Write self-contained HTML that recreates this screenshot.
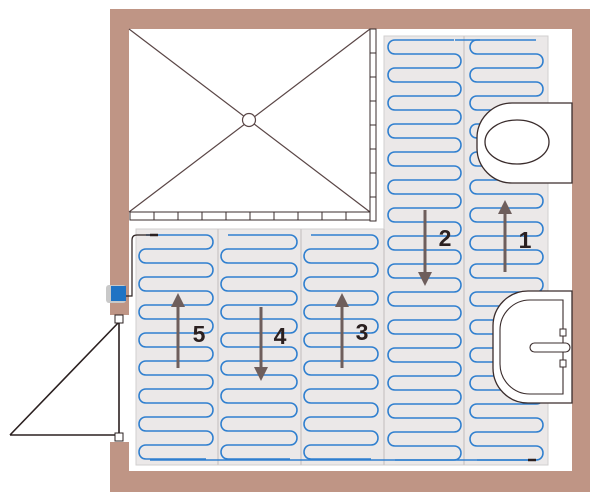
<!DOCTYPE html>
<html><head><meta charset="utf-8"><style>
html,body{margin:0;padding:0;background:#fff;width:600px;height:500px;overflow:hidden}
svg{display:block}
text{font-family:"Liberation Sans","DejaVu Sans",sans-serif;font-weight:bold;font-size:23px;fill:#2b2020}
</style></head><body>
<svg id="s" width="600" height="500" viewBox="0 0 600 500" xmlns="http://www.w3.org/2000/svg">
<rect x="110" y="9" width="480" height="483" fill="#bf9585"/>
<rect x="129" y="29" width="443" height="442" fill="#fff"/>
<rect x="110" y="315" width="19" height="127" fill="#fff"/>
<rect x="129" y="29" width="241" height="183" fill="#fff"/>
<line x1="129" y1="29" x2="370" y2="212" stroke="#5a4646" stroke-width="1.2"/>
<line x1="370" y1="29" x2="129" y2="212" stroke="#5a4646" stroke-width="1.2"/>
<circle cx="249" cy="120" r="6.5" fill="#fff" stroke="#5a4646" stroke-width="1.2"/>
<g id="curb" fill="#fff" stroke="#3a2c2c" stroke-width="1"></g>
<rect x="384" y="36" width="164" height="429" fill="#ebe8e8" stroke="#d2cfcf"/>
<rect x="136" y="229" width="248" height="236" fill="#ebe8e8" stroke="#d2cfcf"/>
<g stroke="#cfcaca" stroke-width="1.5">
<line x1="464" y1="36" x2="464" y2="465"/>
<line x1="218" y1="229" x2="218" y2="465"/>
<line x1="301" y1="229" x2="301" y2="465"/>
<line x1="384" y1="229" x2="384" y2="465"/>
</g>
<g id="cable" fill="none" stroke="#2f7fcf" stroke-width="1.6"></g>
<path d="M512,103 H572 V183 H512 A35,35 0 0 1 477,148 V138 A35,35 0 0 1 512,103 Z" fill="#fff" stroke="#3a2c2c" stroke-width="1.3"/>
<ellipse cx="517" cy="142" rx="32" ry="22" fill="#fff" stroke="#3a2c2c" stroke-width="1.3"/>
<path d="M528,291 H572 V403 H528 A35,35 0 0 1 493,368 V326 A35,35 0 0 1 528,291 Z" fill="#fff" stroke="#3a2c2c" stroke-width="1.3"/>
<path d="M530,300 H563 V394 H530 A30,30 0 0 1 500,364 V330 A30,30 0 0 1 530,300 Z" fill="none" stroke="#3a2c2c" stroke-width="1.1"/>
<rect x="530" y="343" width="40" height="9" rx="4.5" fill="#fff" stroke="#3a2c2c" stroke-width="1.1"/>
<rect x="560" y="329" width="6" height="7" fill="#fff" stroke="#3a2c2c"/>
<rect x="560" y="360" width="6" height="7" fill="#fff" stroke="#3a2c2c"/>
<path d="M119,320 V438 M10,435 H119 M10,435 L119,322" stroke="#2b2020" stroke-width="1.6" fill="none"/>
<rect x="115" y="315" width="8" height="8" fill="#fff" stroke="#2b2020"/>
<rect x="115" y="433" width="8" height="8" fill="#fff" stroke="#2b2020"/>
<rect x="106" y="285" width="20" height="18" rx="3" fill="#c9c9c9"/>
<rect x="111" y="286" width="15" height="15" fill="#1f73c4"/>
<path d="M126,296 H132 V240 Q132,235 137,235 H152" fill="none" stroke="#2b2020" stroke-width="1.2"/>
<line x1="150" y1="235" x2="158" y2="235" stroke="#2b2020" stroke-width="2.5"/>
<line x1="528" y1="460" x2="536" y2="460" stroke="#2b2020" stroke-width="2.5"/>
<g fill="#6e5e5c" stroke="#6e5e5c" stroke-width="3">
<line x1="505" y1="272" x2="505" y2="208"/><polygon points="505,200 498,214 512,214" stroke="none"/>
<line x1="425" y1="210" x2="425" y2="278"/><polygon points="425,286 418,272 432,272" stroke="none"/>
<line x1="342" y1="368" x2="342" y2="300"/><polygon points="342,293 335,307 349,307" stroke="none"/>
<line x1="261" y1="307" x2="261" y2="373"/><polygon points="261,381 254,367 268,367" stroke="none"/>
<line x1="178" y1="368" x2="178" y2="300"/><polygon points="178,293 171,307 185,307" stroke="none"/>
</g>
<text x="525" y="248" text-anchor="middle">1</text>
<text x="445" y="246" text-anchor="middle">2</text>
<text x="362" y="340" text-anchor="middle">3</text>
<text x="280" y="344" text-anchor="middle">4</text>
<text x="199" y="342" text-anchor="middle">5</text>
</svg>
<script>
var NS="http://www.w3.org/2000/svg";
var g=document.getElementById("cable");
function add(d){var p=document.createElementNS(NS,"path");p.setAttribute("d",d);g.appendChild(p);}
function serp(x1,x2,y0,y1,firstRight){
  var r=7,k=9.3,y=y0,L=x1+r,R=x2-r,atRight=firstRight;
  var d=atRight?("M"+L+","+y+" H"+R):("M"+R+","+y+" H"+L);
  while(y+14<=y1){
    if(atRight){d+=" C"+(R+k)+","+y+" "+(R+k)+","+(y+14)+" "+R+","+(y+14)+" H"+L;}
    else{d+=" C"+(L-k)+","+y+" "+(L-k)+","+(y+14)+" "+L+","+(y+14)+" H"+R;}
    atRight=!atRight;y+=14;
  }
  return d;
}
add(serp(388,461,40,460,false));
add(serp(470,543,40,460,false));
add(serp(139,213,235,460,true));
add(serp(221,297,235,460,true));
add(serp(304,378,235,460,true));
add("M455,40 H480");
add("M150,460 H530");
var c=document.getElementById("curb");
function rr(x,y,w,h){var r=document.createElementNS(NS,"rect");r.setAttribute("x",x);r.setAttribute("y",y);r.setAttribute("width",w);r.setAttribute("height",h);c.appendChild(r);}
for(var i=0;i<10;i++) rr(130+i*24,212,24,8);
for(var j=0;j<8;j++) rr(370,29+j*24,6,24);
</script>
</body></html>
